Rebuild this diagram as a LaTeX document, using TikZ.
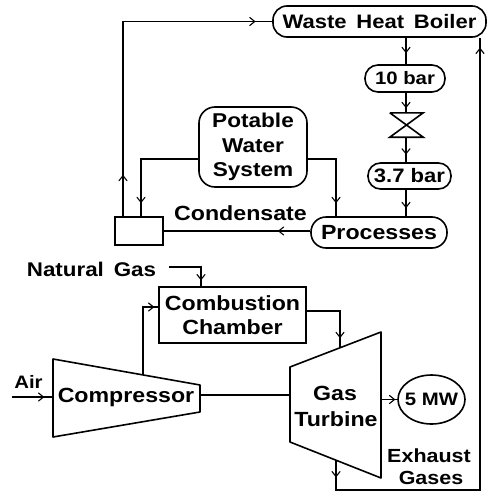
\documentclass[tikz,border=0pt]{standalone}
\usepackage{fontspec}
\setmainfont[FakeStretch=1.13]{Liberation Sans}
\usetikzlibrary{decorations.markings,shapes.geometric}
\newcommand{\flowtip}{\draw[line width=1.1pt,line cap=round,line join=miter] (-3.5,4)--(1.5,0)--(-3.5,-4);}
\tikzset{
  ln/.style={line width=1.6pt,black},
  lbl/.style={font=\bfseries\fontsize{#1}{#1}\selectfont,inner sep=0pt,align=center},
  lbl/.default=20.5,
  roundbox/.style={draw,line width=1.6pt,font=\bfseries\fontsize{20.5}{25}\selectfont,align=center,inner sep=0pt,rounded corners=#1},
  squarebox/.style={draw,line width=1.6pt,font=\bfseries\fontsize{20.5}{24}\selectfont,align=center,inner sep=0pt},
  tipat/.style={postaction={decorate,decoration={markings,mark=at position #1 with {\flowtip}}}},
}
\begin{document}
\begin{tikzpicture}[x=1pt,y=-1pt]
\useasboundingbox (0,0) rectangle (487,493);
% nodes
\node[roundbox=14pt,minimum width=213pt,minimum height=31pt,font=\bfseries\fontsize{19.5}{25}\selectfont] (whb) at (379.5,21.5) {Waste\enspace Heat\enspace Boiler};
\node[roundbox=13pt,minimum width=80pt,minimum height=27pt,font=\bfseries\fontsize{18}{25}\selectfont] (ten) at (405,78.5) {10 bar};
\node[roundbox=12.5pt,minimum width=83pt,minimum height=26pt,font=\bfseries\fontsize{19.5}{25}\selectfont] (three) at (409.5,176) {3.7 bar};
\node[roundbox=15pt,minimum width=136pt,minimum height=31pt] (proc) at (379,232.5) {Processes};
\node[roundbox=16pt,minimum width=108pt,minimum height=80pt,font=\bfseries\fontsize{20}{24.5}\selectfont] (water) at (253,147) {Potable\\Water\\System};
\node[draw,line width=1.6pt,minimum width=48pt,minimum height=28pt,inner sep=0pt] (tank) at (139,231) {};
\node[lbl] (cond) at (240.5,213) {Condensate};
\node[lbl=19.8] (ng) at (91.5,269) {Natural\enspace Gas};
\node[squarebox,minimum width=147pt,minimum height=56pt] (cc) at (232.5,315) {Combustion\\Chamber};
\node[lbl=18] (air) at (28.5,382) {Air};
\node[lbl] (compt) at (126,397) {Compressor};
\node[lbl] (gas) at (335,393) {Gas};
\node[lbl] (turb) at (336,419) {Turbine};
\node[draw,ellipse,line width=1.6pt,minimum width=67pt,minimum height=49pt,inner sep=0pt] (mw) at (431.5,399.5) {};
\node[lbl=18] (mwt) at (mw.center) {5 MW};
\node[lbl=19] (exh) at (429,456) {Exhaust};
\node[lbl=19] (gases) at (431,478) {Gases};
\node[minimum width=33pt,minimum height=24pt,inner sep=0pt] (valve) at (406.5,125) {};
% machine outlines
\coordinate (c1) at (53,359); \coordinate (c2) at (200,385); \coordinate (c3) at (200,412); \coordinate (c4) at (53,437);
\coordinate (t1) at (290,367); \coordinate (t2) at (381,332); \coordinate (t3) at (381,478); \coordinate (t4) at (290,442);
\draw[ln,line join=round] (c1)--(c2)--(c3)--(c4)--cycle;
\draw[ln,line join=round] (t1)--(t2)--(t3)--(t4)--cycle;
\draw[ln] (valve.north west)--(valve.north east)--(valve.south west)--(valve.south east)--(valve.north west);
% helper coordinates
\coordinate (xv) at (406,0);
\coordinate (xr) at (480,0);
\coordinate (xt) at (123,0);
\coordinate (xw) at (141,0);
\coordinate (xp) at (336,0);
\coordinate (airin) at (12,397);
\coordinate (ngin) at (169,267);
\coordinate (ccin) at (201,287);
\coordinate (tapc) at (143,375);
\coordinate (tapcc) at (340,311);
\coordinate (tapt) at (340,348);
\coordinate (exout) at (336,460);
\coordinate (exb) at (336,490);
% connectors
\draw[ln,tipat=39pt,tipat=325pt] (xt |- tank.north) -- (xt |- whb.west) -- (whb.west);
\draw[ln,tipat=13pt] (xv |- whb.south) -- (xv |- ten.north);
\draw[ln,tipat=13pt] (xv |- ten.south) -- (xv |- valve.north);
\draw[ln,tipat=15pt] (xv |- valve.south) -- (xv |- three.north);
\draw[ln,tipat=16pt] (xv |- three.south) -- (xv |- proc.north);
\draw[ln,tipat=30pt] (proc.west |- tank.east) -- (tank.east);
\draw[ln,tipat=99pt] (water.west |- 0,159) -- (xw |- 0,159) -- (xw |- tank.north);
\draw[ln,tipat=70pt] (water.east |- 0,159) -- (xp |- 0,159) -- (xp |- proc.north);
\draw[ln,tipat=30pt] (airin) -- (c1 |- airin);
\draw[ln] (c2 |- 0,395) -- (t1 |- 0,395);
\draw[ln,tipat=43pt] (ngin) -- (ngin -| ccin) -- (ccin);
\draw[ln,tipat=77pt] (tapc) -- (tapc |- 0,307) -- (cc.west |- 0,307);
\draw[ln,tipat=58pt] (cc.east |- tapcc) -- (tapcc) -- (tapt);
\draw[ln,tipat=12pt] (t2 |- mw.west) -- (mw.west);
\draw[ln,tipat=15pt,tipat=614pt] (exout) -- (exb) -- (exb -| xr) -- (xr |- whb.south);
\end{tikzpicture}
\end{document}
